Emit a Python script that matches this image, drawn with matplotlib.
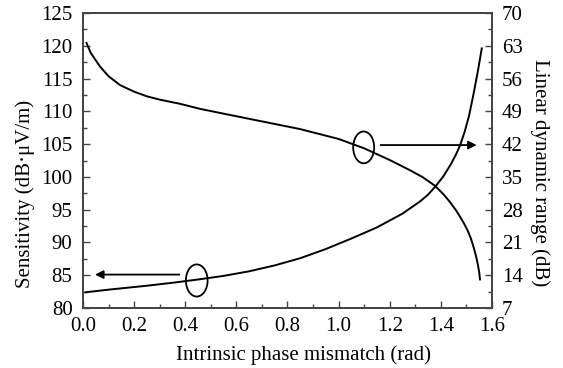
from matplotlib import pyplot as plt
from matplotlib.patches import Ellipse
from matplotlib.ticker import MultipleLocator
import numpy as np

# Sensibilite (axe gauche), courbe croissante
phase_sens = [0.01, 0.1, 0.25, 0.35, 0.45, 0.55, 0.65, 0.75, 0.85, 0.95, 1.05, 1.15,
              1.25, 1.32, 1.35, 1.38, 1.41, 1.44, 1.46, 1.475, 1.494, 1.51, 1.527,
              1.545, 1.56]
sensitivity = [82.4, 82.8, 83.4, 83.85, 84.35, 84.9, 85.6, 86.5, 87.6, 89.0, 90.6, 92.3,
               94.4, 96.3, 97.3, 98.6, 100.1, 102.0, 103.5, 104.8, 107.0, 109.3, 112.5,
               116.2, 119.6]

# Plage dynamique lineaire (axe droit), courbe decroissante
phase_ldr = [0.014, 0.03, 0.05, 0.066, 0.1, 0.145, 0.2, 0.25, 0.3, 0.38, 0.46, 0.65,
             0.85, 0.9, 1.0, 1.06, 1.1, 1.2, 1.28, 1.33, 1.377, 1.41, 1.436, 1.46,
             1.475, 1.49, 1.505, 1.517, 1.527, 1.537, 1.545, 1.55, 1.553]
ldr = [63.6, 61.5, 59.9, 58.6, 56.5, 54.6, 53.2, 52.2, 51.5, 50.6, 49.5, 47.4,
       45.2, 44.5, 43.1, 41.9, 41.1, 38.6, 36.4, 34.9, 33.1, 31.3, 29.6, 27.8,
       26.5, 25.1, 23.5, 21.9, 20.2, 18.2, 16.2, 14.6, 13.1]

xticks = np.arange(0.0, 1.61, 0.2)
left_ticks = np.arange(80, 126, 5)
right_ticks = np.arange(7, 71, 7)

plt.rcParams['font.family'] = 'Liberation Serif'
plt.rcParams['font.size'] = 15

fig = plt.figure(figsize=(5.63, 3.68), dpi=100)
ax1 = fig.add_axes([0.1474, 0.163, 0.7265, 0.8017])
ax2 = ax1.twinx()

ax1.plot(phase_sens, sensitivity, color='k', lw=1.4)
ax2.plot(phase_ldr, ldr, color='k', lw=1.4)

ax1.set_xlim(0.0, 1.6)
ax1.set_ylim(80, 125)
ax2.set_ylim(7, 70)
ax1.set_xticks(xticks)
ax1.set_xticklabels(["{:.1f}".format(v) for v in xticks])
ax1.set_yticks(left_ticks)
ax2.set_yticks(right_ticks)
ax1.xaxis.set_minor_locator(MultipleLocator(0.1))
ax1.yaxis.set_minor_locator(MultipleLocator(2.5))
ax2.yaxis.set_minor_locator(MultipleLocator(3.5))

ax1.tick_params(which='both', direction='in', top=False, right=False, color='#444444')
ax1.tick_params(which='major', length=5, width=1.0)
ax1.tick_params(which='minor', length=3, width=1.0)
ax1.tick_params(axis='y', pad=7.5)
ax1.tick_params(axis='x', pad=6.5)
ax2.tick_params(which='both', direction='in', color='#444444', width=1.0)
ax2.tick_params(which='major', length=5, pad=7)
ax2.tick_params(which='minor', length=3)

for ax in (ax1, ax2):
    for s in ax.spines.values():
        s.set_color('#444444')
        s.set_linewidth(1.3)

ax1.set_xlabel("Intrinsic phase mismatch (rad)")
ax1.set_ylabel("Sensitivity (dB\u00b7\u03bcV/m)")
ax2.set_ylabel("Linear dynamic range (dB)", rotation=270)
ax1.xaxis.set_label_coords(0.538, -0.125, transform=ax1.transAxes)
ax1.yaxis.set_label_coords(-0.117, 0.385)
ax2.yaxis.set_label_coords(1.142, 0.46)

# ellipses + fleches
ax1.add_patch(Ellipse((0.445, 84.2), 0.085, 4.9, fill=False, ec='k', lw=1.3))
ax2.add_patch(Ellipse((1.098, 41.3), 0.082, 6.8, fill=False, ec='k', lw=1.3))
ax1.annotate('', xy=(0.047, 85.1), xytext=(0.377, 85.1),
             arrowprops=dict(arrowstyle='-|>', color='k', lw=1.3, mutation_scale=12,
                             shrinkA=0, shrinkB=0))
ax2.annotate('', xy=(1.54, 41.8), xytext=(1.164, 41.8),
             arrowprops=dict(arrowstyle='-|>', color='k', lw=1.3, mutation_scale=12,
                             shrinkA=0, shrinkB=0))

plt.savefig('out.png', dpi=100)
